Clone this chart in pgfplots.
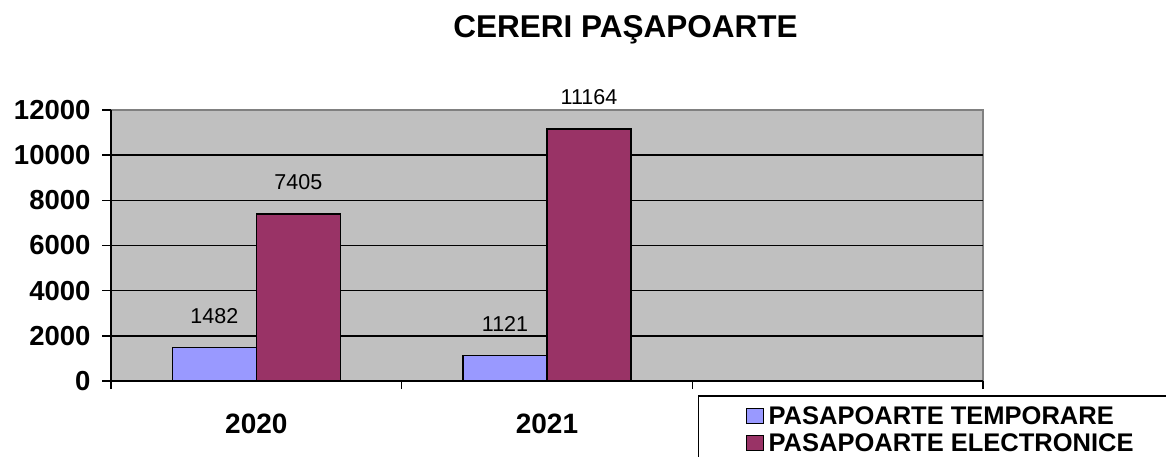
\documentclass[border=0pt]{standalone}
\usepackage{pgfplots}
\pgfplotsset{compat=1.18}
\usepackage{fontspec}
\setmainfont{Liberation Sans}
\definecolor{bgray}{HTML}{C0C0C0}
\definecolor{tempc}{HTML}{9999FF}
\definecolor{elecc}{HTML}{993366}
\begin{document}
\begin{tikzpicture}
\useasboundingbox (0,0) rectangle (1166pt,456pt);
\clip (0,0) rectangle (1166pt,456pt);
\begin{axis}[
 at={(111pt,75pt)}, anchor=south west,
 width=872pt, height=271pt, scale only axis,
 xmin=-0.5, xmax=2.5, ymin=0, ymax=12000,
 ybar=0pt, bar width=84pt,
 axis x line*=bottom, axis y line*=left,
 axis line style={black, line width=1.5pt, -},
 axis background/.style={fill=bgray, draw=gray, line width=1.5pt},
 xtick={0,1}, xticklabels={2020,2021},
 minor xtick={-0.5,0.5,1.5,2.5},
 major x tick style={draw=none},
 tick align=outside,
 major tick length=9pt, minor tick length=8pt,
 tick style={black, line width=1.5pt},
 ytick={0,2000,...,10000},
 extra y ticks={12000}, extra y tick style={grid=none},
 ymajorgrids, major grid style={black, line width=1.5pt},
 scaled y ticks=false,
 /pgf/number format/assume math mode=true,
 /pgf/number format/set thousands separator={},
 yticklabel style={font=\bfseries\fontsize{27.5}{27.5}\selectfont, xshift=-8pt},
 xticklabel style={font=\bfseries\fontsize{28}{28}\selectfont, yshift=-20pt},
 title={CERERI PAŞAPOARTE},
 title style={font=\bfseries\fontsize{31.5}{31.5}\selectfont, at={(0.590,1.245)}, anchor=base},
 nodes near coords,
 nodes near coords style={font=\fontsize{21.5}{21.5}\selectfont, anchor=south, inner sep=0pt, yshift=23pt, black},
 legend style={at={(0.673,-0.0517)}, anchor=north west, draw=black, line width=1.5pt, fill=white,
   inner xsep=47pt, inner ysep=9pt, row sep=3.5pt,
   font=\bfseries\fontsize{25.5}{25.5}\selectfont,
   /tikz/every odd column/.append style={column sep=3pt}},
 legend cell align=left,
 legend image code/.code={\draw[#1, line width=1pt] (0pt,-7.5pt) rectangle (17pt,7.5pt);},
]
\addplot[fill=tempc, draw=black, line width=1.5pt] coordinates {(0,1482) (1,1121)};
\addplot[fill=elecc, draw=black, line width=1.5pt] coordinates {(0,7405) (1,11164)};
\legend{PASAPOARTE TEMPORARE, PASAPOARTE ELECTRONICE}
\end{axis}
\end{tikzpicture}
\end{document}
